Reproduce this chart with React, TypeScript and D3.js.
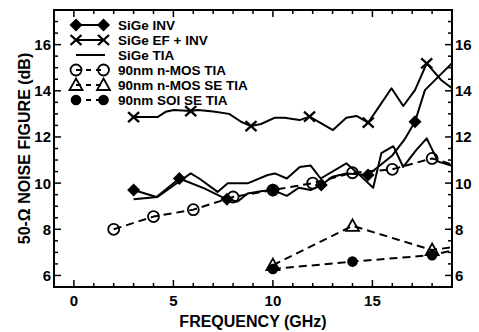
import React from "react";
import * as d3 from "d3";

// ---------- DATA ----------
const sigeInvF = [3.0, 4.15, 5.3, 6.55, 7.69, 8.23, 8.73, 9.4, 10.0, 10.7, 11.3, 11.9, 12.43, 13.0, 13.69, 14.78, 16.0, 16.6, 17.14, 17.64, 19.0];
const sigeInvNF = [9.7, 9.4, 10.2, 9.77, 9.3, 9.2, 9.55, 9.65, 9.7, 9.45, 9.8, 9.7, 9.92, 10.28, 10.42, 10.35, 11.2, 11.87, 12.66, 14.03, 15.2];
const sigeInvMarked = [0, 2, 4, 8, 12, 15, 18];

const sigeEfF = [3.0, 4.2, 4.61, 5.02, 5.87, 6.23, 7.0, 7.8, 8.4, 8.9, 9.4, 10.08, 10.58, 11.34, 11.84, 13.02, 13.69, 14.2, 14.79, 15.96, 16.55, 17.14, 17.73, 18.45, 19.0];
const sigeEfNF = [12.86, 12.86, 13.09, 13.17, 13.12, 13.17, 13.1, 13.0, 12.66, 12.47, 12.56, 12.83, 12.83, 12.73, 12.88, 12.3, 12.83, 12.91, 12.62, 14.11, 13.34, 14.03, 15.19, 14.47, 14.11];
const sigeEfMarked = [0, 4, 9, 14, 18, 22];

const sigeTiaF = [3.0, 4.2, 5.1, 5.87, 6.3, 7.22, 7.73, 8.73, 9.74, 10.1, 10.7, 11.35, 11.9, 12.4, 13.69, 14.3, 15.04, 15.45, 16.05, 16.55, 17.2, 17.73, 18.3, 19.0];
const sigeTiaNF = [9.3, 9.4, 9.95, 10.42, 10.2, 9.62, 9.99, 9.99, 10.35, 10.42, 10.2, 10.7, 10.76, 10.2, 10.86, 10.4, 9.8, 11.3, 11.6, 10.7, 11.43, 11.94, 10.93, 10.75];

const nmosTiaF = [2, 4, 6, 8, 10, 12, 14, 16, 18, 20];
const nmosTiaNF = [8.0, 8.55, 8.85, 9.4, 9.7, 10.0, 10.45, 10.6, 11.07, 10.55];

const nmosSeF = [10, 14, 18, 20];
const nmosSeNF = [6.45, 8.15, 7.1, 7.35];

const soiSeF = [10, 14, 18, 20];
const soiSeNF = [6.28, 6.6, 6.88, 7.28];

const legendLabels = ["SiGe INV", "SiGe EF + INV", "SiGe TIA", "90nm n-MOS TIA", "90nm n-MOS SE TIA", "90nm SOI SE TIA"];
const xMajorTicks = [0, 5, 10, 15];
const yMajorTicks = [6, 8, 10, 12, 14, 16];
const xLabel = "FREQUENCY (GHz)";
const yLabel = "50-\u03A9 NOISE FIGURE (dB)";

// ---------- LAYOUT ----------
const W = 479, H = 332;
const L = 54, R = 452, T = 10, B = 287;
const FONT = "'Liberation Sans', Arial, Helvetica, sans-serif";

type Kind = "diamond" | "x" | "none" | "ocircle" | "triangle" | "fcircle";

function Marker({ kind, x, y }: { kind: Kind; x: number; y: number }) {
  const sw = 1.8;
  if (kind === "diamond")
    return <path d={`M${x},${y - 6.5}L${x + 6.5},${y}L${x},${y + 6.5}L${x - 6.5},${y}Z`} fill="#000" />;
  if (kind === "x")
    return (
      <g stroke="#000" strokeWidth={2.3}>
        <line x1={x - 5.5} y1={y - 5} x2={x + 5.5} y2={y + 5} />
        <line x1={x - 5.5} y1={y + 5} x2={x + 5.5} y2={y - 5} />
      </g>
    );
  if (kind === "ocircle") return <circle cx={x} cy={y} r={5.5} fill="none" stroke="#000" strokeWidth={sw} />;
  if (kind === "fcircle") return <circle cx={x} cy={y} r={5.3} fill="#000" />;
  if (kind === "triangle")
    return <path d={`M${x},${y - 6.5}L${x + 6.5},${y + 5}L${x - 6.5},${y + 5}Z`} fill="none" stroke="#000" strokeWidth={sw} />;
  return null;
}

export default function App() {
  const x = d3.scaleLinear().domain([-1, 19]).range([L, R]);
  const y = d3.scaleLinear().domain([5.5, 17.5]).range([B, T]);
  const line = d3
    .line<[number, number]>()
    .x((d) => x(d[0]))
    .y((d) => y(d[1]));

  const zip = (a: number[], b: number[]) => a.map((v, i) => [v, b[i]] as [number, number]);

  const series: { f: number[]; nf: number[]; kind: Kind; dash?: string; marked?: number[] }[] = [
    { f: sigeTiaF, nf: sigeTiaNF, kind: "none" },
    { f: sigeInvF, nf: sigeInvNF, kind: "diamond", marked: sigeInvMarked },
    { f: sigeEfF, nf: sigeEfNF, kind: "x", marked: sigeEfMarked },
    { f: nmosTiaF, nf: nmosTiaNF, kind: "ocircle", dash: "8,5" },
    { f: nmosSeF, nf: nmosSeNF, kind: "triangle", dash: "8,5" },
    { f: soiSeF, nf: soiSeNF, kind: "fcircle", dash: "8,5" },
  ];

  const xMinor = d3.range(-1, 19.001, 1);
  const yMinor = d3.range(5.5, 17.501, 0.5);
  const legendKinds: Kind[] = ["diamond", "x", "none", "ocircle", "triangle", "fcircle"];
  const legendDash = [undefined, undefined, undefined, "5,5", "5,5", "5,5"];

  return (
    <svg width={W} height={H} style={{ position: "absolute", left: 0, top: 0, background: "#fff" }} fontFamily={FONT}>
      <defs>
        <clipPath id="plot">
          <rect x={L} y={T} width={R - L} height={B - T} />
        </clipPath>
      </defs>
      <rect x={0} y={0} width={W} height={H} fill="#fff" />

      {/* data */}
      <g clipPath="url(#plot)">
        {series.map((s, si) => (
          <g key={si}>
            <path d={line(zip(s.f, s.nf)) || ""} fill="none" stroke="#000" strokeWidth={2} strokeDasharray={s.dash} strokeLinejoin="round" />
            {s.kind !== "none" &&
              s.f.map((f, i) =>
                !s.marked || s.marked.includes(i) ? <Marker key={i} kind={s.kind} x={x(f)} y={y(s.nf[i])} /> : null
              )}
          </g>
        ))}
      </g>

      {/* ticks */}
      <g stroke="#000" strokeWidth={1.5}>
        {xMinor.map((t) => {
          const major = xMajorTicks.includes(t);
          const len = major ? 7 : 4;
          return (
            <g key={"x" + t}>
              <line x1={x(t)} x2={x(t)} y1={B} y2={B - len} />
              <line x1={x(t)} x2={x(t)} y1={T} y2={T + len} />
            </g>
          );
        })}
        {yMinor.map((t) => {
          const major = yMajorTicks.includes(t);
          const len = major ? 7 : 4;
          return (
            <g key={"y" + t}>
              <line x1={L} x2={L + len} y1={y(t)} y2={y(t)} />
              <line x1={R} x2={R - len} y1={y(t)} y2={y(t)} />
            </g>
          );
        })}
      </g>
      <rect x={L} y={T} width={R - L} height={B - T} fill="none" stroke="#000" strokeWidth={2} />

      {/* tick labels */}
      <g fontSize={15} fontWeight="bold" fill="#000">
        {xMajorTicks.map((t) => (
          <text key={"xl" + t} x={x(t)} y={306} textAnchor="middle">
            {t}
          </text>
        ))}
        {yMajorTicks.map((t) => (
          <g key={"yl" + t}>
            <text x={L - 3} y={y(t) + 5.5} textAnchor="end">
              {t}
            </text>
            <text x={R + 3} y={y(t) + 5.5} textAnchor="start">
              {t}
            </text>
          </g>
        ))}
      </g>

      {/* axis titles */}
      <text x={(L + R) / 2} y={327} textAnchor="middle" fontSize={16} fontWeight="bold">
        {xLabel}
      </text>
      <text
        transform={`translate(30,${(T + B) / 2}) rotate(-90)`}
        textAnchor="middle"
        fontSize={16}
        fontWeight="bold"
      >
        {yLabel}
      </text>

      {/* legend */}
      <g>
        {legendLabels.map((lab, i) => {
          const cy = 25 + i * 15;
          const k = legendKinds[i];
          return (
            <g key={lab}>
              <line x1={76} x2={k === "none" ? 105 : 103.5} y1={cy} y2={cy} stroke="#000" strokeWidth={2} strokeDasharray={legendDash[i]} />
              {k !== "none" && (
                <>
                  <Marker kind={k} x={76} y={cy} />
                  <Marker kind={k} x={103.5} y={cy} />
                </>
              )}
              <text x={118} y={cy + 5} fontSize={13.5} fontWeight="bold">
                {lab}
              </text>
            </g>
          );
        })}
      </g>
    </svg>
  );
}
